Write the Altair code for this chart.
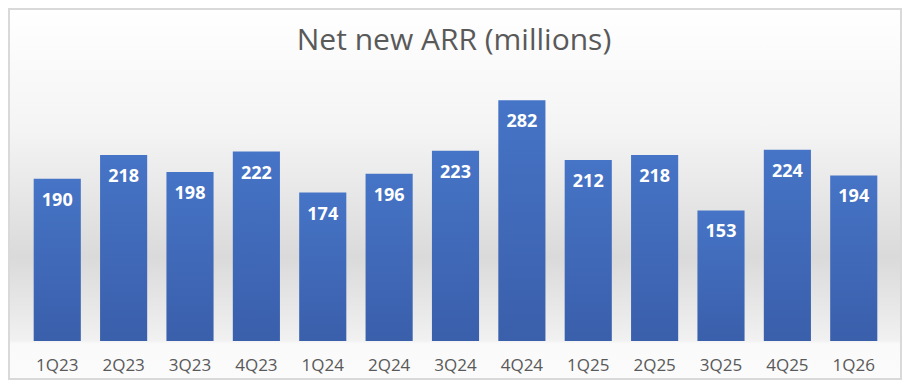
import altair as alt
import pandas as pd

quarters = ["1Q23", "2Q23", "3Q23", "4Q23", "1Q24", "2Q24", "3Q24",
            "4Q24", "1Q25", "2Q25", "3Q25", "4Q25", "1Q26"]
net_new_arr = [190, 218, 198, 222, 174, 196, 223, 282, 212, 218, 153, 224, 194]
title_text = "Net new ARR (millions)"

df = pd.DataFrame({"quarter": quarters, "arr": net_new_arr})

bg_gradient = alt.LinearGradient(
    gradient="linear", x1=0, x2=0, y1=0, y2=1,
    stops=[
        alt.GradientStop(color="#ffffff", offset=0.0),
        alt.GradientStop(color="#f4f4f4", offset=0.33),
        alt.GradientStop(color="#dadada", offset=0.67),
        alt.GradientStop(color="#ebebeb", offset=0.84),
        alt.GradientStop(color="#f1f1f1", offset=0.895),
        alt.GradientStop(color="#fafafa", offset=0.905),
        alt.GradientStop(color="#fbfbfb", offset=1.0),
    ],
)

bar_gradient = alt.LinearGradient(
    gradient="linear", x1=0, x2=0, y1=0, y2=1,
    stops=[
        alt.GradientStop(color="#4674c6", offset=0.0),
        alt.GradientStop(color="#3a5fab", offset=1.0),
    ],
)

background = alt.Chart(pd.DataFrame({"k": [0]})).mark_rect(
    color=bg_gradient, stroke="#d9d9d9", strokeWidth=2
).encode(
    x=alt.value(-15), x2=alt.value(877), y=alt.value(-76), y2=alt.value(294)
)

title = alt.Chart(pd.DataFrame({"t": [title_text]})).mark_text(
    font="Open Sans", fontSize=30, color="#595959", align="center", baseline="alphabetic"
).encode(x=alt.value(430), y=alt.value(-35), text="t:N")

x_enc = alt.X(
    "quarter:N", sort=quarters,
    scale=alt.Scale(paddingInner=0.29, paddingOuter=0.146),
    axis=alt.Axis(title=None, labelAngle=0, domain=False, ticks=False, tickSize=0,
                  labelFont="Open Sans", labelFontSize=17, labelColor="#595959",
                  labelBaseline="alphabetic", labelPadding=29, zindex=2),
)
y_enc = alt.Y("arr:Q", scale=alt.Scale(domain=[0, 300]), axis=None)

bars = alt.Chart(df).mark_bar(color=bar_gradient).encode(x=x_enc, y=y_enc)

labels = alt.Chart(df).mark_text(
    color="white", fontWeight="bold", font="Open Sans", fontSize=18,
    baseline="middle", dy=22
).encode(x=x_enc, y=y_enc, text=alt.Text("arr:Q"))

chart = alt.layer(background, title, bars, labels).properties(
    width=863, height=256,
    autosize=alt.AutoSizeParams(type="none"),
    padding={"left": 16, "top": 77, "right": 15, "bottom": 39},
).configure_view(stroke=None)

chart.save("out.html", embed_options={"renderer": "svg", "actions": False})
